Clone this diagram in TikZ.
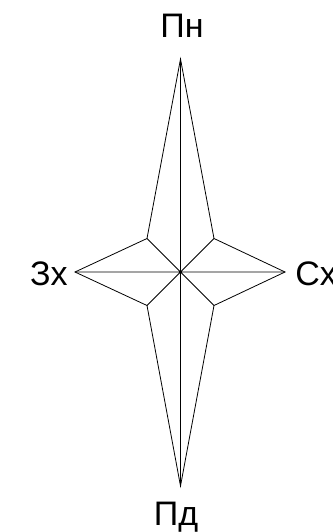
\documentclass[tikz,border=0pt]{standalone}
\usepackage{fontspec}
\setmainfont{Liberation Sans}
\begin{document}
\begin{tikzpicture}[x=1pt,y=-1pt,line width=.8pt,
  lab/.style={font=\fontsize{34}{40}\selectfont,inner sep=0pt,anchor=base}]
  \useasboundingbox (0,0) rectangle (332,532);
  % star points
  \coordinate (O) at (180.5,272);
  \coordinate (N) at (180.5,59);
  \coordinate (S) at (180.5,486);
  \coordinate (W) at (75,272);
  \coordinate (E) at (285,272);
  \coordinate (NE) at (214,238.5);
  \coordinate (SE) at (214,305.5);
  \coordinate (SW) at (147,305.5);
  \coordinate (NW) at (147,238.5);
  \draw (N) -- (NE) -- (E) -- (SE) -- (S) -- (SW) -- (W) -- (NW) -- cycle;
  \draw (N) -- (S) (W) -- (E) (NW) -- (SE) (NE) -- (SW);
  % labels
  \node[lab] (pn) at (182,38) {Пн};
  \node[lab,anchor=base east] (zx) at (68,285.5) {Зх};
  \node[lab,anchor=base west] (sx) at (295,285.5) {Сх};
  \node[lab] (pd) at (176,525) {Пд};
\end{tikzpicture}
\end{document}
